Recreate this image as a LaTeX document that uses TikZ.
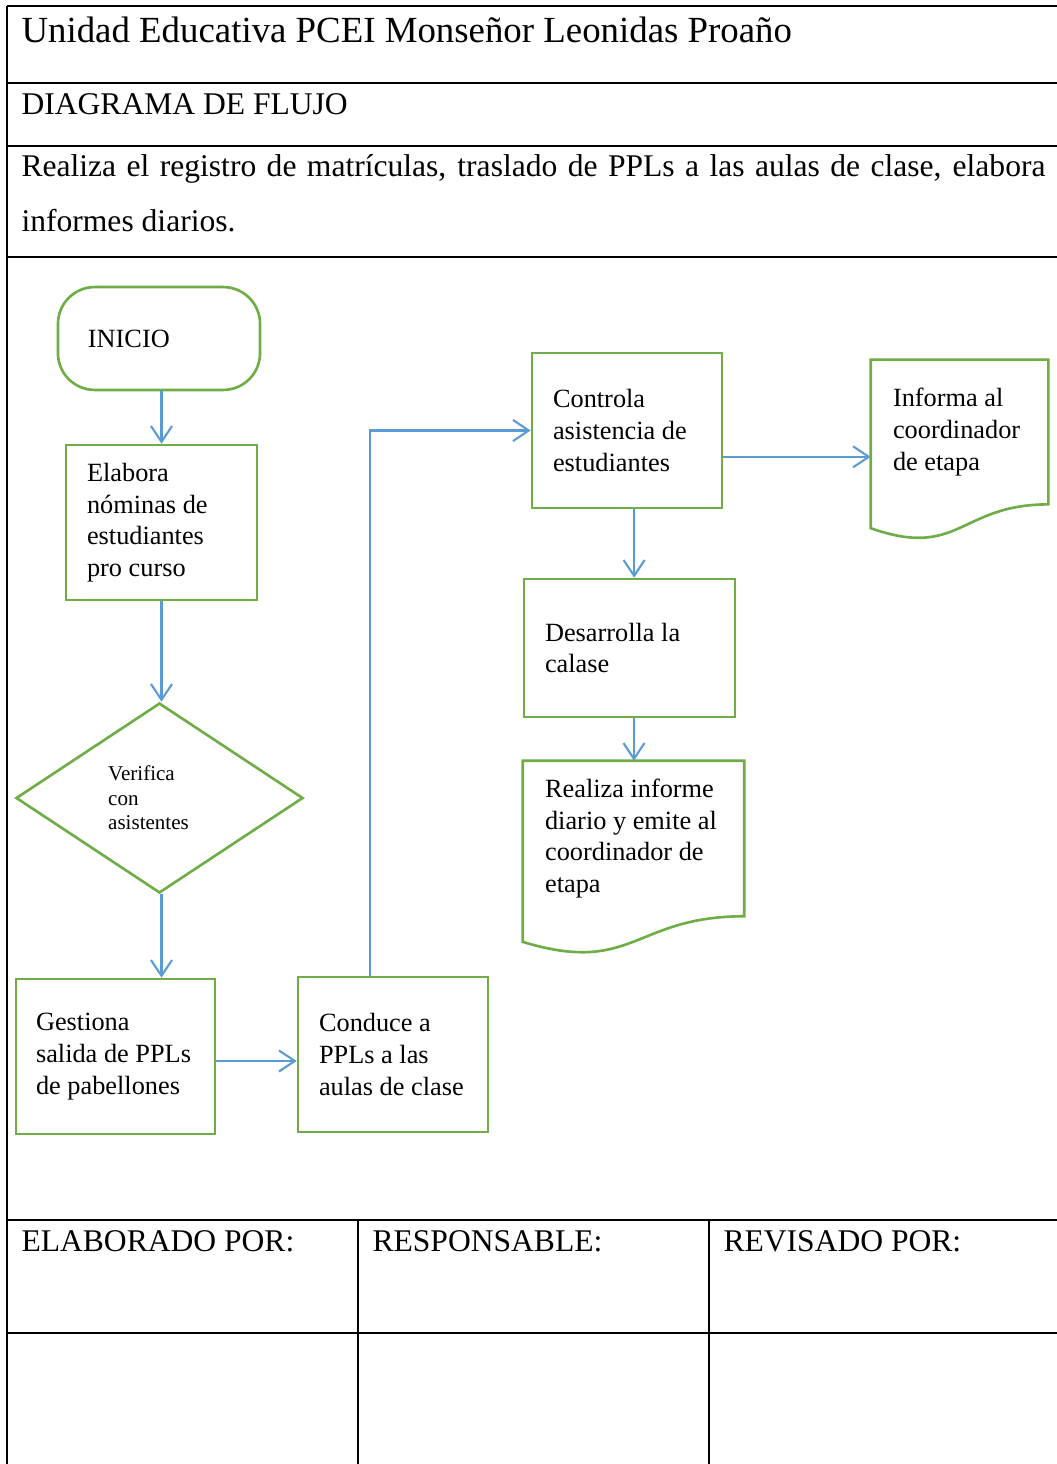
\documentclass[tikz,border=0pt]{standalone}
\usepackage{fontspec}
\setmainfont{Liberation Serif}
\usepackage{xcolor}
\usepackage{tikz}
\usetikzlibrary{shapes.geometric,positioning,calc,arrows.meta}
\definecolor{verde}{RGB}{112,173,71}
\definecolor{azul}{RGB}{91,155,213}

\begin{document}
\begin{tikzpicture}[x=0.38pt,y=-0.38pt,
 caja/.style={draw=verde,line width=1pt,fill=white,inner xsep=8pt,inner ysep=0pt,align=flush left,font=\fontsize{10}{12}\selectfont,
   execute at begin node={\spaceskip=0pt\xspaceskip=0pt\rightskip=0pt plus 1fil minus 6pt}},
 doc/.style={caja,draw=none},
 ar/.style={draw=azul,line width=0.8pt,-{Straight Barb[length=6pt,width=8pt]}},
 tabla/.style={line width=0.9pt},
 txt/.style={anchor=base west,inner sep=0pt,font=\fontsize{12}{14}\selectfont}]
\fill[white] (0,0) rectangle (1057,1464);
\useasboundingbox (0,0) rectangle (1057,1464);
\draw[tabla] (7,6) -- (1057,6);
\draw[tabla] (7,6) -- (7,1464);
\foreach \y in {83,146,257,1220,1333} \draw[tabla] (7,\y) -- (1057,\y);
\draw[tabla] (358,1220) -- (358,1464);
\draw[tabla] (709,1220) -- (709,1464);
\node[txt,font=\fontsize{14}{16}\selectfont] (tit) at (21,42) {Unidad Educativa PCEI Monseñor Leonidas Proaño};
\node[txt] (sub) at (21,114.5) {DIAGRAMA DE FLUJO};
\node[txt] (obj1) at (21,176) {\makebox[389.1pt][s]{Realiza el registro de matrículas, traslado de PPLs a las aulas de clase, elabora}};
\node[txt] (obj2) at (21,231) {informes diarios.};
\node[txt] (elb) at (21,1251) {ELABORADO POR:};
\node[txt] (resp) at (372,1251) {RESPONSABLE:};
\node[txt] (rev) at (723,1251) {REVISADO POR:};
\node[caja,rounded corners=14pt,minimum height=39.1pt,text width=54pt,inner xsep=11.4pt] (ini) at (159,338.5) {INICIO};
\node[caja,minimum height=58.9pt,text width=56.6pt] (elab) at (161.5,522.5) {Elabora\\ nóminas de\\ estudiantes\\ pro curso};
\node[caja,fill=none,diamond,aspect=1.5,inner sep=0pt,minimum width=109.1pt,minimum height=72.2pt,text width=39pt,font=\fontsize{8}{9.3}\selectfont] (dia) at (159.5,798) {Verifica\\ con\\ asistentes};
\node[caja,minimum height=58.9pt,text width=60.4pt,inner xsep=7.6pt] (ges) at (115.5,1056.5) {Gestiona\\ salida de PPLs\\ de pabellones};
\node[caja,minimum height=58.9pt,text width=56.2pt] (con) at (393,1054.5) {Conduce a\\ PPLs a las\\ aulas de clase};
\node[caja,minimum height=58.9pt,text width=56.2pt] (ctl) at (627,430.5) {Controla\\ asistencia de\\ estudiantes};
\node[doc,minimum height=54pt,text width=50.5pt] (inf) at (959.5,432) {Informa al\\ coordinador\\ de etapa};
\node[caja,minimum height=52.4pt,text width=64.2pt] (des) at (629.5,648) {Desarrolla la\\ calase};
\node[doc,minimum height=58.1pt,text width=67.2pt] (rea) at (633.5,838.5) {Realiza informe\\ diario y emite al\\ coordinador de\\ etapa};
\draw[verde,line width=1pt] (inf.north west) -- (inf.north east) -- (inf.south east) .. controls (inf.south) and ($(inf.north)!1.381!(inf.south)$) .. ($(inf.north west)!1.1646!(inf.south west)$) -- cycle;
\draw[verde,line width=1pt] (rea.north west) -- (rea.north east) -- (rea.south east) .. controls (rea.south) and ($(rea.north)!1.381!(rea.south)$) .. ($(rea.north west)!1.1646!(rea.south west)$) -- cycle;
\draw[ar] (elab.north |- ini.south) -- (elab.north);
\draw[ar] (elab.south) -- (elab.south |- dia.north);
\draw[ar] (elab.south |- dia.south) -- (elab.south |- ges.north);
\draw[ar] ([yshift=-1.7pt]ges.east) -- ([yshift=-1.7pt]ges.east -| con.west);
\draw[ar] ([xshift=-8.7pt]con.north) |- (ctl.west);
\draw[ar] ([yshift=-10pt]ctl.east) -- ([yshift=-10pt]ctl.east -| inf.west);
\draw[ar] ([xshift=2.7pt]ctl.south) -- ([xshift=2.7pt]ctl.south |- des.north);
\draw[ar] ([xshift=1.7pt]des.south) -- ([xshift=1.7pt]des.south |- rea.north);
\end{tikzpicture}
\end{document}
